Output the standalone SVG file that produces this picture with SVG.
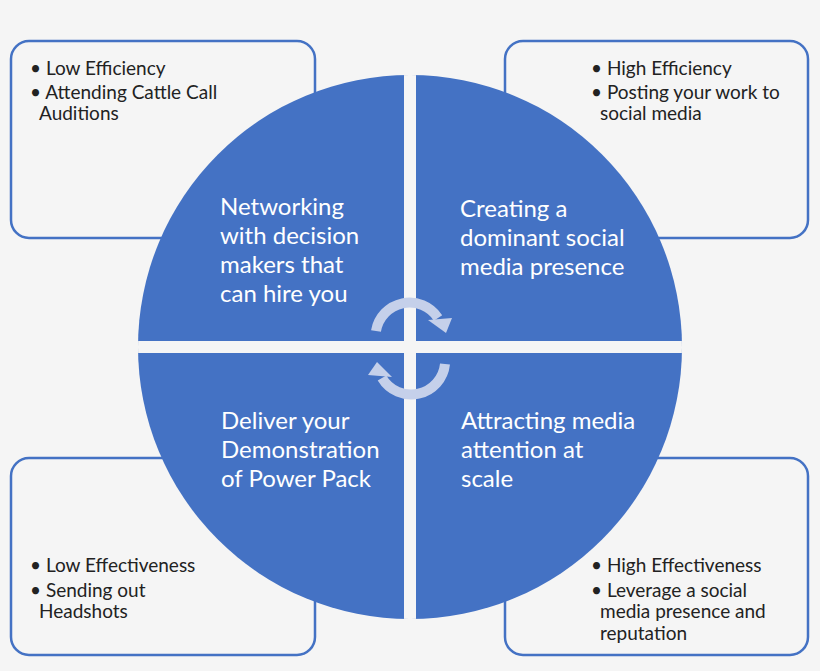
<svg xmlns="http://www.w3.org/2000/svg" width="820" height="671" viewBox="0 0 820 671">
<style>
.box{fill:#f5f5f5;stroke:#4472c4;stroke-width:2.5}
.bt{font-family:Lato,"Noto Sans",sans-serif;font-size:19px;fill:#222}
.ct{font-family:Lato,"Noto Sans",sans-serif;font-size:24px;fill:#fff}
.arr{fill:none;stroke:#c5d0ea;stroke-width:10}
.ah{fill:#c5d0ea}
</style>
<defs><clipPath id="c"><circle cx="410" cy="347" r="272"/></clipPath></defs>
<rect width="820" height="671" fill="#f5f5f5"/>
<g id="box-tl"><rect class="box" x="11" y="41" width="304" height="197" rx="18"/>
<text class="bt" x="30" y="75">• Low Efficiency</text><text class="bt" x="30" y="99">• Attending Cattle Call</text><text class="bt" x="39" y="120">Auditions</text></g>
<g id="box-tr"><rect class="box" x="505" y="41" width="303" height="197" rx="18"/>
<text class="bt" x="591" y="75">• High Efficiency</text><text class="bt" x="591" y="99">• Posting your work to</text><text class="bt" x="600" y="120">social media</text></g>
<g id="box-bl"><rect class="box" x="11" y="458" width="304" height="197" rx="18"/>
<text class="bt" x="30" y="572">• Low Effectiveness</text><text class="bt" x="30" y="597">• Sending out</text><text class="bt" x="39" y="618">Headshots</text></g>
<g id="box-br"><rect class="box" x="505" y="458" width="303" height="197" rx="18"/>
<text class="bt" x="591" y="572">• High Effectiveness</text><text class="bt" x="591" y="597">• Leverage a social</text><text class="bt" x="600" y="618">media presence and</text><text class="bt" x="600" y="640">reputation</text></g>
<g id="circle"><circle cx="410" cy="347" r="272" fill="#4472c4"/>
<g clip-path="url(#c)" fill="#f5f5f5"><rect x="404" y="70" width="12" height="560"/><rect x="130" y="341" width="560" height="12"/></g></g>
<g id="q-tl"><text class="ct" x="220" y="215">Networking</text><text class="ct" x="220" y="244">with decision</text><text class="ct" x="220" y="273">makers that</text><text class="ct" x="220" y="302">can hire you</text></g>
<g id="q-tr"><text class="ct" x="460" y="217">Creating a</text><text class="ct" x="460" y="246">dominant social</text><text class="ct" x="460" y="275">media presence</text></g>
<g id="q-bl"><text class="ct" x="221" y="429">Deliver your</text><text class="ct" x="221" y="458">Demonstration</text><text class="ct" x="221" y="487">of Power Pack</text></g>
<g id="q-br"><text class="ct" x="461" y="429">Attracting media</text><text class="ct" x="461" y="458">attention at</text><text class="ct" x="461" y="487">scale</text></g>
<g id="connectors">
<path class="arr" d="M376 331 A34 34 0 0 1 438 318"/>
<polygon class="ah" points="428,320 452,318 446,333"/>
<path class="arr" d="M445 364 A34 34 0 0 1 382 378"/>
<polygon class="ah" points="392,377 368,375 377,362"/>
</g>
</svg>
